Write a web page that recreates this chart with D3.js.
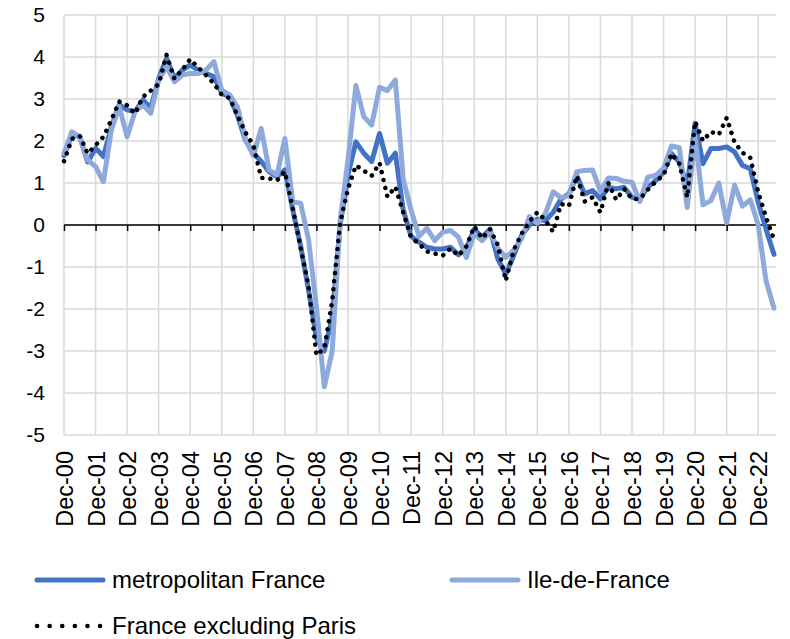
<!DOCTYPE html>
<html>
<head>
<meta charset="utf-8">
<script src="https://cdn.jsdelivr.net/npm/d3@7"></script>
<style>
  body { margin: 0; background: #fff; }
  text { font-family: Arial, "Liberation Sans", sans-serif; fill: #000; }
</style>
</head>
<body>
<svg width="790" height="639"></svg>
<script>
// quarterly values, Dec-00 .. Jun-23
var metro = [1.65, 2.15, 2.1, 1.5, 1.83, 1.63, 2.34, 2.86, 2.74, 2.7, 2.98, 2.78, 3.49, 3.97, 3.49, 3.69,
    3.81, 3.69, 3.61, 3.53, 3.13, 3.06, 2.6, 2.02, 1.71, 1.51, 1.27, 1.15, 1.31, 0.36, -0.5, -1.55,
    -2.7, -3.0, -2.2, 0.0, 1.2, 1.98, 1.71, 1.51, 2.18, 1.47, 1.71, 0.36, -0.27, -0.41, -0.53, -0.57,
    -0.57, -0.53, -0.71, -0.55, -0.1, -0.29, -0.1, -0.81, -1.17, -0.73, -0.25, 0.0, 0.14, 0.1, 0.3, 0.62,
    0.74, 1.17, 0.74, 0.82, 0.62, 0.9, 0.86, 0.9, 0.66, 0.62, 0.9, 1.06, 1.26, 1.7, 1.5, 0.94,
    2.42, 1.46, 1.82, 1.82, 1.86, 1.74, 1.42, 1.34, 0.54, -0.1, -0.7];

var idf = [1.71, 2.22, 2.1, 1.55, 1.39, 1.03, 2.26, 2.82, 2.1, 2.7, 2.86, 2.66, 3.45, 3.77, 3.41, 3.57,
    3.61, 3.61, 3.69, 3.89, 3.21, 3.1, 2.8, 2.05, 1.65, 2.3, 1.31, 1.19, 2.06, 0.55, 0.52, -0.35,
    -1.95, -3.85, -3.0, 0.1, 1.55, 3.32, 2.58, 2.38, 3.28, 3.2, 3.45, 1.1, 0.35, -0.27, -0.08, -0.37,
    -0.17, -0.13, -0.29, -0.77, -0.21, -0.37, -0.17, -0.55, -0.77, -0.6, -0.33, 0.2, 0.04, 0.26, 0.79, 0.65,
    0.7, 1.27, 1.3, 1.31, 0.8, 1.12, 1.11, 1.04, 1.02, 0.56, 1.14, 1.18, 1.35, 1.88, 1.84, 0.42,
    2.1, 0.48, 0.58, 1.0, 0.05, 0.95, 0.45, 0.6, 0.0, -1.34, -1.98];

var exParis = [1.52, 2.05, 2.12, 1.7, 1.9, 2.1, 2.5, 2.94, 2.85, 2.65, 3.05, 3.2, 3.35, 4.05, 3.48, 3.7,
    3.95, 3.75, 3.57, 3.37, 3.1, 3.02, 2.6, 2.2, 1.9, 1.12, 1.11, 1.06, 1.27, 0.4, -0.55, -1.45,
    -3.1, -2.94, -1.8, 0.05, 0.86, 1.42, 1.29, 1.17, 1.48, 0.67, 0.91, 0.3, -0.3, -0.45, -0.63, -0.68,
    -0.73, -0.56, -0.73, -0.51, -0.03, -0.32, -0.1, -0.48, -1.33, -0.6, -0.21, 0.08, 0.3, 0.12, -0.16, 0.5,
    0.45, 1.17, 0.56, 0.66, 0.3, 1.0, 0.6, 0.86, 0.62, 0.62, 0.84, 1.03, 1.19, 1.7, 1.46, 0.66,
    2.46, 2.0, 2.22, 2.15, 2.55, 1.97, 1.72, 1.6, 0.78, 0.18, -0.34];

var tickLabels = ["Dec-00", "Dec-01", "Dec-02", "Dec-03", "Dec-04", "Dec-05", "Dec-06", "Dec-07",
    "Dec-08", "Dec-09", "Dec-10", "Dec-11", "Dec-12", "Dec-13", "Dec-14", "Dec-15", "Dec-16",
    "Dec-17", "Dec-18", "Dec-19", "Dec-20", "Dec-21", "Dec-22"];
var yTicks = [-5, -4, -3, -2, -1, 0, 1, 2, 3, 4, 5];

var series = [
    {name: "metropolitan France", values: metro, color: "#4472c4", width: 5, dash: null},
    {name: "Ile-de-France", values: idf, color: "#8eaadc", width: 5, dash: null},
    {name: "France excluding Paris", values: exParis, color: "#000", width: 4.5, dash: "0.1,8"}
];

var svg = d3.select("svg");
var plotL = 64, plotR = 776, plotT = 15, plotB = 435;

var x = d3.scaleLinear().domain([0, metro.length - 1]).range([plotL, 774]);
var y = d3.scaleLinear().domain([-5, 5]).range([plotB, plotT]);

var tickIdx = tickLabels.map(function (d, i) { return i * 4; });

// grid
svg.append("g").selectAll("line").data(yTicks).enter().append("line")
    .attr("x1", plotL).attr("x2", plotR)
    .attr("y1", function (d) { return y(d); }).attr("y2", function (d) { return y(d); })
    .attr("stroke", "#d9d9d9").attr("stroke-width", 1.5);
svg.append("g").selectAll("line").data(tickIdx).enter().append("line")
    .attr("x1", function (d) { return x(d); }).attr("x2", function (d) { return x(d); })
    .attr("y1", plotT).attr("y2", plotB)
    .attr("stroke", "#d9d9d9").attr("stroke-width", 1.5);

// y labels
var yAxis = svg.append("g")
    .attr("transform", "translate(" + plotL + ",0)")
    .call(d3.axisLeft(y).tickValues(yTicks).tickSize(0).tickPadding(19)
        .tickFormat(function (d) { return String(d); }));
yAxis.select(".domain").remove();
yAxis.selectAll("text").style("font-size", "21px").style("font-family", "Arial, 'Liberation Sans', sans-serif");

// x labels
var xLab = svg.append("g")
    .attr("transform", "translate(0," + plotB + ")")
    .call(d3.axisBottom(x).tickValues(tickIdx).tickSize(0)
        .tickFormat(function (d, i) { return tickLabels[i]; }));
xLab.select(".domain").remove();
xLab.selectAll("text")
    .attr("transform", "rotate(-90)")
    .attr("x", -16).attr("y", 0).attr("dy", "0.36em")
    .style("text-anchor", "end")
    .style("font-size", "23.5px").style("font-family", "Arial, 'Liberation Sans', sans-serif");

// zero axis with ticks
var zeroAxis = svg.append("g")
    .attr("transform", "translate(0," + y(0) + ")")
    .call(d3.axisBottom(x).tickValues(tickIdx).tickSize(6).tickSizeOuter(0).tickFormat(""));
zeroAxis.select(".domain").attr("d", "M" + plotL + ",0H" + plotR).attr("stroke", "#000").attr("stroke-width", 1.5);
zeroAxis.selectAll(".tick line").attr("stroke", "#000").attr("stroke-width", 1.5);

// lines
var line = d3.line()
    .x(function (d, i) { return x(i); })
    .y(function (d) { return y(d); });

svg.append("g").selectAll("path").data(series).enter().append("path")
    .attr("d", function (d) { return line(d.values); })
    .attr("fill", "none")
    .attr("stroke", function (d) { return d.color; })
    .attr("stroke-width", function (d) { return d.width; })
    .attr("stroke-linejoin", "round")
    .attr("stroke-linecap", "round")
    .attr("stroke-dasharray", function (d) { return d.dash; });

// legend
var legPos = [{x: 35, y: 580}, {x: 450, y: 580}, {x: 35, y: 626}];
var leg = svg.append("g").selectAll("g").data(series).enter().append("g")
    .attr("transform", function (d, i) { return "translate(" + legPos[i].x + "," + legPos[i].y + ")"; });
leg.append("line")
    .attr("x1", 2).attr("x2", 68).attr("y1", 0).attr("y2", 0)
    .attr("stroke", function (d) { return d.color; })
    .attr("stroke-width", function (d) { return d.width; })
    .attr("stroke-linecap", "round")
    .attr("stroke-dasharray", function (d) { return d.dash ? "0.1,12.5" : null; });
leg.append("text")
    .attr("x", 77)
    .attr("y", 0).attr("dy", "0.35em")
    .style("font-size", "24px")
    .text(function (d) { return d.name; });
</script>
</body>
</html>
